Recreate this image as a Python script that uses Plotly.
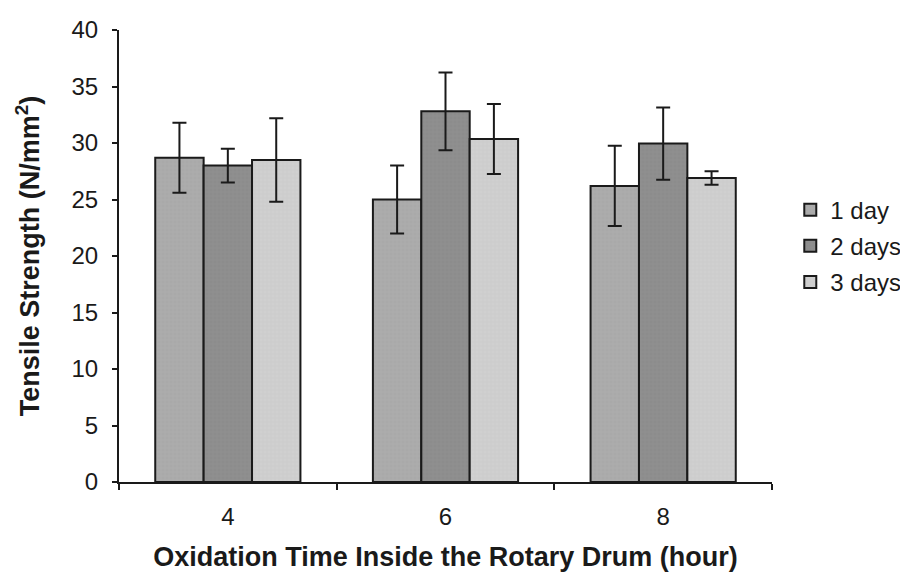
import plotly.graph_objects as go

categories = ["4", "6", "8"]
series_names = ["1 day", "2 days", "3 days"]
values_1day = [28.7, 25.0, 26.2]
errors_1day = [3.1, 3.0, 3.55]
values_2days = [28.0, 32.8, 29.95]
errors_2days = [1.5, 3.45, 3.2]
values_3days = [28.5, 30.35, 26.9]
errors_3days = [3.7, 3.1, 0.6]

colors = ["#a9a9a9", "#8c8c8c", "#cdcdcd"]
pattern_fg = ["#bdbdbd", "#a0a0a0", "#dddddd"]

fig = go.Figure()
for name, vals, errs, col, fg in zip(series_names,
                                     [values_1day, values_2days, values_3days],
                                     [errors_1day, errors_2days, errors_3days],
                                     colors, pattern_fg):
    fig.add_trace(go.Bar(
        x=categories, y=vals, name=name, legendgroup=name,
        marker=dict(color=col, line=dict(color="#1a1a1a", width=2),
                    pattern=dict(shape="+", size=4, solidity=0.15, fgcolor=fg, bgcolor=col)),
        error_y=dict(type="data", array=errs, color="#1a1a1a", thickness=2, width=7),
    ))

font_family = "Liberation Sans, Arial, sans-serif"
fig.update_layout(
    width=900, height=574,
    barmode="group", bargap=0.333, bargroupgap=0,
    plot_bgcolor="white", paper_bgcolor="white",
    margin=dict(l=119, r=128, t=30, b=92, autoexpand=False),
    font=dict(family=font_family, size=24, color="#1a1a1a"),
    legend=dict(x=1.028, y=0.522, xanchor="left", yanchor="middle",
                font=dict(size=24), tracegroupgap=2, itemwidth=30),
    showlegend=True,
)
fig.update_xaxes(
    type="category", showline=True, linecolor="#1a1a1a", linewidth=2,
    ticks="outside", tickson="boundaries", ticklen=6, tickcolor="#1a1a1a", tickwidth=2,
    showgrid=False, tickfont=dict(size=24), ticklabelstandoff=12,
    title=dict(text="<b>Oxidation Time Inside the Rotary Drum (hour)</b>", font=dict(size=27), standoff=18),
)
fig.update_yaxes(
    range=[0, 40], dtick=5, showline=True, linecolor="#1a1a1a", linewidth=2,
    ticks="outside", ticklen=5, tickcolor="#1a1a1a", tickwidth=2,
    showgrid=False, zeroline=False, tickfont=dict(size=24), ticklabelstandoff=9,
    title=dict(text="<b>Tensile Strength (N/mm<sup>2</sup>)</b>", font=dict(size=27), standoff=24),
)

fig.write_html("out.html", config={"displayModeBar": False},
               post_script="document.body.style.margin='0';")
